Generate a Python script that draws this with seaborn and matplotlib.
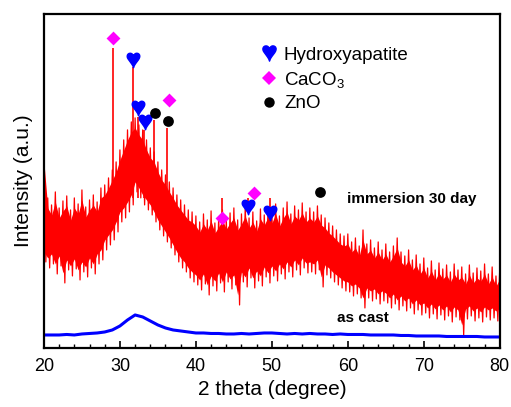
import numpy as np
import pandas as pd
import matplotlib
matplotlib.use("Agg")
from matplotlib import pyplot
from matplotlib.lines import Line2D
import matplotlib.ticker as mtick
import seaborn as sns

sns.set_style("ticks")
pyplot.rcParams['font.family'] = ['Liberation Sans', 'DejaVu Sans']
pyplot.rcParams['mathtext.fontset'] = 'custom'
pyplot.rcParams['mathtext.rm'] = 'Liberation Sans'
pyplot.rcParams['mathtext.default'] = 'regular'
pyplot.rcParams['text.color'] = 'black'
pyplot.rcParams['axes.labelcolor'] = 'black'
pyplot.rcParams['xtick.color'] = 'black'

#################################################################
# immersion 30 day: noisy band, upper / lower edge every 0.5 deg (20..80)
two_theta = [20 + 0.5 * i for i in range(121)]
red_upper = [196, 150, 143, 156, 140, 147, 152, 138, 150, 144,
             158, 141, 148, 153, 146, 160, 163, 170, 178, 186,
             198, 208, 218, 226, 230, 223, 218, 208, 200, 196,
             186, 178, 173, 166, 160, 153, 148, 143, 138, 136,
             132, 126, 134, 128, 137, 125, 131, 138, 129, 135,
             140, 128, 134, 142, 130, 136, 127, 139, 133, 141,
             135, 144, 132, 140, 146, 134, 142, 138, 145, 136,
             140, 136, 142, 133, 130, 125, 122, 118, 114, 112,
             114, 106, 110, 102, 118, 104, 108, 100, 106, 98,
             104, 96, 102, 110, 96, 92, 98, 88, 93, 84,
             90, 80, 87, 78, 85, 79, 83, 76, 84, 78,
             81, 74, 83, 75, 80, 77, 84, 74, 81, 72,
             79]
red_lower = [86, 80, 84, 74, 82, 65, 78, 72, 79, 68,
             76, 71, 80, 74, 84, 88, 98, 103, 108, 116,
             126, 130, 136, 143, 156, 150, 143, 138, 133, 126,
             118, 112, 106, 100, 93, 86, 80, 76, 70, 66,
             63, 58, 64, 53, 62, 57, 65, 56, 66, 59,
             63, 43, 66, 61, 70, 60, 67, 62, 71, 65,
             72, 67, 74, 69, 76, 71, 78, 73, 80, 75,
             76, 74, 78, 61, 73, 70, 66, 63, 60, 57,
             56, 52, 54, 50, 40, 50, 47, 49, 44, 47,
             45, 40, 44, 38, 42, 37, 40, 34, 38, 33,
             35, 30, 34, 29, 33, 28, 32, 26, 31, 28,
             13, 29, 32, 27, 30, 26, 31, 28, 30, 27,
             30]

# sharp reflections of the immersed sample
peak_pos = [29.1, 31.7, 32.4, 33.2, 34.5, 36.2, 43.4, 46.8, 49.7, 56.4]
peak_top = [300, 281, 231, 218, 228, 220, 118, 135, 128, 150]

# as cast: smooth curve, every 1 deg
cast_theta = list(range(20, 81))
cast_int = [13, 13, 13, 13.5, 13, 14, 14.5, 15, 16, 18,
            22, 28, 33, 31, 27, 23, 20, 18, 17, 16,
            15, 15, 14.5, 14.5, 14, 14, 14.5, 14, 14.5, 15,
            15, 14.5, 14, 14.5, 14, 14.5, 14, 14, 13.5, 14,
            13.5, 13.5, 13.5, 13, 13, 13, 13, 12.5, 12.5, 12,
            12, 12, 12, 11.5, 11.5, 11.5, 11.5, 11.5, 11, 11,
            11]

# phase markers (position, height)
hap_x = [31.7, 32.4, 33.3, 46.8, 49.7]
hap_y = [288, 240, 226, 141, 135]
caco3_x = [29.1, 36.4, 43.4, 47.6]
caco3_y = [310, 248, 130, 155]
zno_x = [34.6, 36.3, 56.4]
zno_y = [235, 227, 156]

#################################################################
assert len(red_upper) == len(red_lower) == len(two_theta)
# zig-zag between the two edges gives the dense noisy band
trace_x, trace_y = [], []
for t, hi, lo in zip(two_theta, red_upper, red_lower):
    trace_x += [t, t + 0.25]
    trace_y += [hi, lo]
red = pd.DataFrame({"theta": trace_x, "I": trace_y})
cast = pd.DataFrame({"theta": cast_theta, "I": cast_int})

fig = pyplot.figure(figsize=(5.11, 4.07), dpi=100)
ax = fig.add_axes([0.086, 0.145, 0.892, 0.821])

# solid core of the band, then the spiky trace on top
core_lo = [v + 10 for v in red_lower]
core_hi = [v - 10 for v in red_upper]
ax.fill_between(two_theta, core_lo, core_hi, color="red", lw=0)
sns.lineplot(x="theta", y="I", data=red, color="red", lw=0.9, estimator=None, sort=False, ax=ax)
ax.vlines(peak_pos, 150, peak_top, color="red", lw=1.2)
sns.lineplot(x="theta", y="I", data=cast, color="blue", lw=2.2, estimator=None, ax=ax)

heart = "$\u2665$"
ax.scatter(hap_x, hap_y, marker=heart, s=110, color="blue", zorder=5)
ax.scatter(caco3_x, caco3_y, marker="D", s=50, color="#ff00ff", lw=0, zorder=5)
ax.scatter(zno_x, zno_y, marker="o", s=60, color="black", lw=0, zorder=5)

handles = [Line2D([], [], ls="", marker=heart, ms=11, color="blue"),
           Line2D([], [], ls="", marker="D", ms=7, color="#ff00ff", mew=0),
           Line2D([], [], ls="", marker="o", ms=7.5, color="black", mew=0)]
ax.legend(handles, ["Hydroxyapatite", "CaCO$_3$", "ZnO"], loc="upper left",
          bbox_to_anchor=(0.436, 0.952), frameon=False, fontsize=13.5,
          handlelength=1.0, handletextpad=0.3, labelspacing=0.3)

ax.text(68.4, 149, "immersion 30 day", fontsize=11, fontweight="bold", ha="center", va="center")
ax.text(62.0, 30, "as cast", fontsize=11, fontweight="bold", ha="center", va="center")

ax.set_xlim(20, 80)
ax.set_ylim(0, 334)
ax.set_xticks(range(20, 81, 10))
ax.xaxis.set_minor_locator(mtick.MultipleLocator(2))
ax.set_yticks([])
ax.tick_params(axis="x", which="major", direction="in", length=5, width=1.2, labelsize=13, pad=7)
ax.tick_params(axis="x", which="minor", direction="in", length=3, width=1.0)
ax.set_xlabel("2 theta (degree)", fontsize=15, labelpad=4)
ax.set_ylabel("Intensity (a.u.)", fontsize=15, labelpad=8)
for s in ax.spines.values():
    s.set_visible(True)
    s.set_linewidth(1.6)
    s.set_color("black")

pyplot.savefig("out.png", dpi=100)
